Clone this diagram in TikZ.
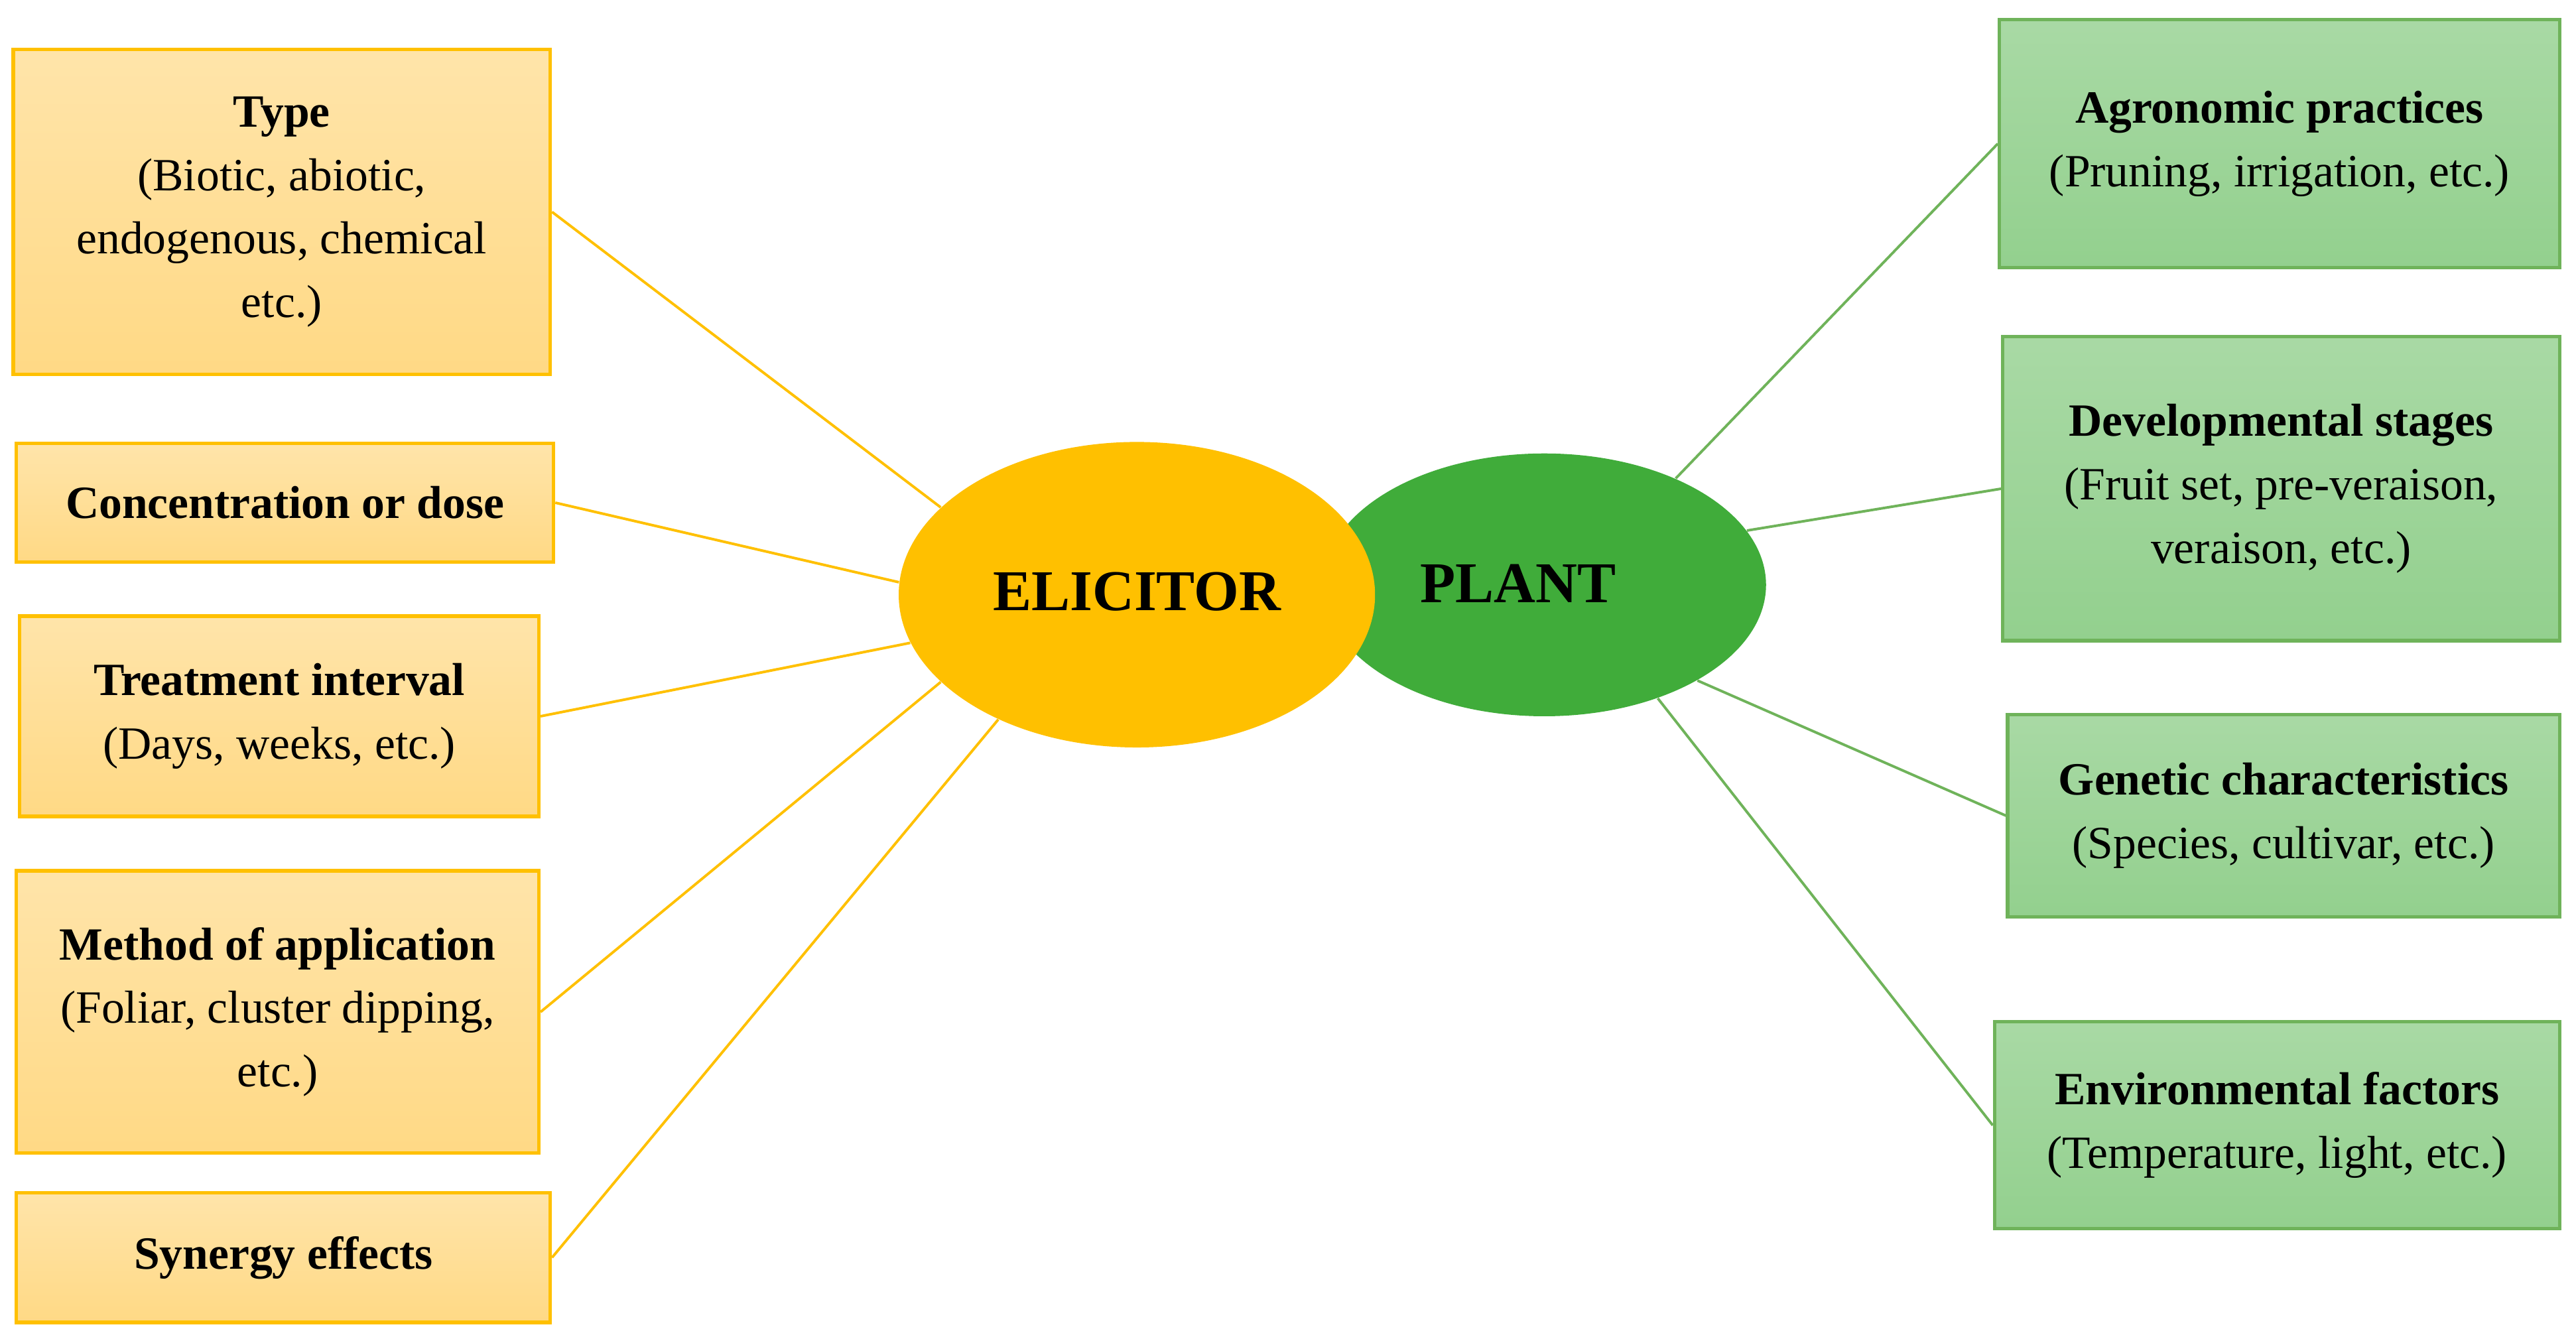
\documentclass[tikz,border=0pt]{standalone}
\usepackage{fontspec}
\setmainfont{Liberation Serif}
\usetikzlibrary{shapes.geometric}
\definecolor{ob}{HTML}{FFC000}
\definecolor{of}{HTML}{FFD985}
\definecolor{gb}{HTML}{6FB35A}
\definecolor{gf}{HTML}{93D08E}
\definecolor{el}{HTML}{FFC000}
\definecolor{pl}{HTML}{40AC3A}
\begin{document}
\begin{tikzpicture}[x=0.02cm,y=-0.02cm,
  ob/.style={draw=ob,line width=1.2pt,top color=of!70!white,bottom color=of,align=center,font=\fontsize{16}{22}\selectfont,inner sep=0pt},
  gbx/.style={draw=gb,line width=1.2pt,top color=gf!80!white,bottom color=gf,align=center,font=\fontsize{16}{22}\selectfont,inner sep=0pt},
  ol/.style={draw=ob,line width=0.9pt},
  gl/.style={draw=gb,line width=0.9pt}]
\useasboundingbox (0,0) rectangle (1568,816);
\node[ellipse,fill=pl,minimum width=5.4cm,minimum height=3.2cm,inner sep=0pt] (plant) at (940,356) {};
\node[ellipse,fill=el,minimum width=5.8cm,minimum height=3.72cm,inner sep=0pt] (elic) at (692,362) {};
\node[font=\fontsize{20}{24}\selectfont\bfseries] (elt) at (692,360) {ELICITOR};
\node[font=\fontsize{20}{24}\selectfont\bfseries] (plt) at (924,355) {PLANT};
\node[ob,minimum width=6.54cm,minimum height=3.96cm] (type) at (171.5,129) {\textbf{Type}\\(Biotic, abiotic,\\endogenous, chemical\\etc.)};
\node[ob,minimum width=6.54cm,minimum height=1.44cm] (conc) at (173.5,306) {\textbf{Concentration or dose}};
\node[ob,minimum width=6.32cm,minimum height=2.44cm] (treat) at (170,436) {\textbf{Treatment interval}\\(Days, weeks, etc.)};
\node[ob,minimum width=6.36cm,minimum height=3.44cm] (meth) at (169,616) {\textbf{Method of application}\\(Foliar, cluster dipping,\\etc.)};
\node[ob,minimum width=6.5cm,minimum height=1.58cm] (syn) at (172.5,765.5) {\textbf{Synergy effects}};
\node[gbx,minimum width=6.82cm,minimum height=3.02cm] (agro) at (1387.5,87.5) {\textbf{Agronomic practices}\\(Pruning, irrigation, etc.)};
\node[gbx,minimum width=6.78cm,minimum height=3.7cm] (dev) at (1388.5,297.5) {\textbf{Developmental stages}\\(Fruit set, pre-veraison,\\veraison, etc.)};
\node[gbx,minimum width=6.72cm,minimum height=2.46cm] (gen) at (1390,496.5) {\textbf{Genetic characteristics}\\(Species, cultivar, etc.)};
\node[gbx,minimum width=6.88cm,minimum height=2.52cm] (env) at (1386,685) {\textbf{Environmental factors}\\(Temperature, light, etc.)};
\draw[ol] (type.east) -- (elic.156);
\draw[ol] (conc.east) -- (elic.177);
\draw[ol] (treat.east) -- (elic.-168);
\draw[ol] (meth.east) -- (elic.-156);
\draw[ol] (syn.east) -- (elic.-138);
\draw[gl] (agro.west) -- (plant.39);
\draw[gl] (dev.west) -- (plant.15);
\draw[gl] (gen.west) -- (plant.-32);
\draw[gl] (env.west) -- (plant.-45);
\end{tikzpicture}
\end{document}
